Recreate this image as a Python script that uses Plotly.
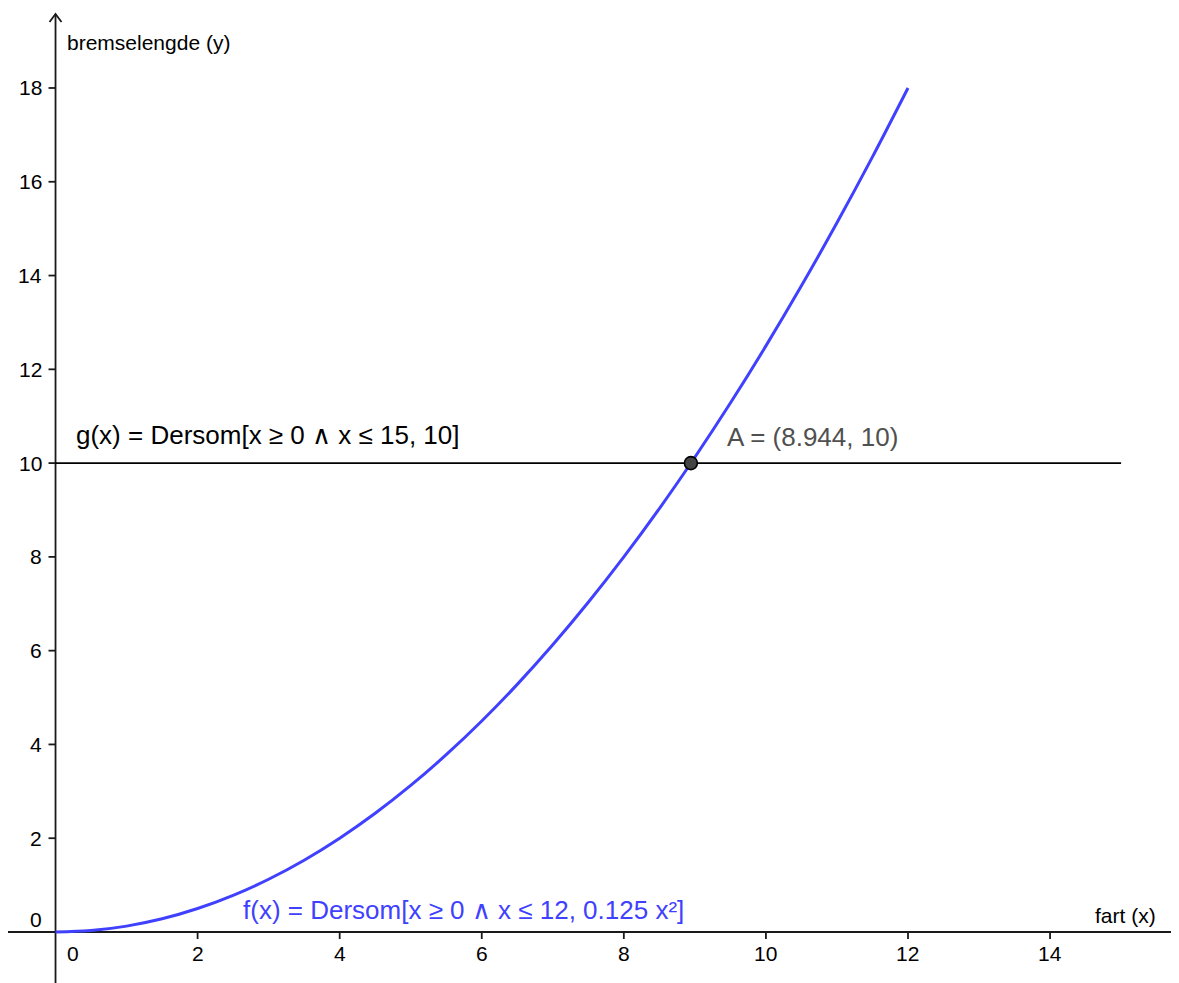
import plotly.graph_objects as go

# Data
fart = [0, 0.5, 1, 1.5, 2, 2.5, 3, 3.5, 4, 4.5, 5, 5.5, 6, 6.5, 7, 7.5, 8,
        8.5, 9, 9.5, 10, 10.5, 11, 11.5, 12]
bremselengde = [0, 0.031, 0.125, 0.281, 0.5, 0.781, 1.125, 1.531, 2, 2.531, 3.125,
                3.781, 4.5, 5.281, 6.125, 7.031, 8, 9.031, 10.125, 11.281, 12.5,
                13.781, 15.125, 16.531, 18]
g_x = [0, 15]
g_y = [10, 10]
point_A = (8.944, 10)
x_ticks = [0, 2, 4, 6, 8, 10, 12, 14]
y_ticks = [0, 2, 4, 6, 8, 10, 12, 14, 16, 18]

W, H = 1171, 975
X_RANGE = [-0.669, 15.815]
Y_RANGE = [-1.088, 19.706]
PX_X = W / (X_RANGE[1] - X_RANGE[0])
PX_Y = H / (Y_RANGE[1] - Y_RANGE[0])

FONT = "Liberation Sans, Arial, sans-serif"
BLUE = "rgb(64,64,255)"
AXC = "#1a1a1a"

fig = go.Figure()

# g(x) horizontal line
fig.add_trace(go.Scatter(x=g_x, y=g_y, mode="lines",
                         line=dict(color="black", width=1.8), hoverinfo="skip"))
# f(x) curve
fig.add_trace(go.Scatter(x=fart, y=bremselengde, mode="lines",
                         line=dict(color=BLUE, width=3, shape="spline", smoothing=1.0),
                         hoverinfo="skip"))
# point A
fig.add_trace(go.Scatter(x=[point_A[0]], y=[point_A[1]], mode="markers",
                         marker=dict(size=13, color="#454545", line=dict(color="black", width=1.6)),
                         hoverinfo="skip"))

shapes = []
# axes
shapes.append(dict(type="line", xref="x", yref="y", x0=X_RANGE[0], x1=X_RANGE[1], y0=0, y1=0,
                   line=dict(color=AXC, width=1.8), layer="below"))
ytip = 18 + (88 - 14) / PX_Y
shapes.append(dict(type="line", xref="x", yref="y", x0=0, x1=0, y0=Y_RANGE[0], y1=ytip,
                   line=dict(color=AXC, width=1.8), layer="below"))
# arrow head on y axis
dx = 6 / PX_X
dy = 8 / PX_Y
shapes.append(dict(type="path", xref="x", yref="y",
                   path=f"M {-dx} {ytip - dy} L 0 {ytip} L {dx} {ytip - dy}",
                   line=dict(color=AXC, width=1.8), layer="below"))
# ticks
tl = 7
for t in x_ticks[1:]:
    shapes.append(dict(type="line", xref="x", yref="y", x0=t, x1=t, y0=0, y1=-tl / PX_Y,
                       line=dict(color=AXC, width=1.8), layer="below"))
for t in y_ticks[1:]:
    shapes.append(dict(type="line", xref="x", yref="y", x0=0, x1=-tl / PX_X, y0=t, y1=t,
                       line=dict(color=AXC, width=1.8), layer="below"))

annotations = []
for t in x_ticks:
    annotations.append(dict(x=t, y=0, xref="x", yref="y", text=str(t), showarrow=False,
                            xanchor="center", yanchor="middle",
                            xshift=(17 if t == 0 else 0), yshift=-22,
                            font=dict(family=FONT, size=21, color="black")))
for t in y_ticks:
    annotations.append(dict(x=0, y=t, xref="x", yref="y", text=str(t), showarrow=False,
                            xanchor="right", yanchor="middle",
                            xshift=-12, yshift=(12 if t == 0 else 0),
                            font=dict(family=FONT, size=21, color="black")))

annotations += [
    dict(x=0, y=ytip, xref="x", yref="y", text="bremselengde (y)", showarrow=False,
         xanchor="left", yanchor="middle", xshift=9, yshift=-29,
         font=dict(family=FONT, size=21, color="black")),
    dict(x=X_RANGE[1], y=0, xref="x", yref="y", text="fart (x)", showarrow=False,
         xanchor="right", yanchor="middle", xshift=-21, yshift=16,
         font=dict(family=FONT, size=21, color="black")),
    dict(x=0, y=10, xref="x", yref="y", text="g(x) = Dersom[x ≥ 0 ∧ x ≤ 15, 10]",
         showarrow=False, xanchor="left", yanchor="middle", xshift=18, yshift=28,
         font=dict(family=FONT, size=26, color="black")),
    dict(x=point_A[0], y=point_A[1], xref="x", yref="y", text="A = (8.944, 10)",
         showarrow=False, xanchor="left", yanchor="middle", xshift=34, yshift=26,
         font=dict(family=FONT, size=26, color="#505050")),
    dict(x=2.61, y=0, xref="x", yref="y", text="f(x) = Dersom[x ≥ 0 ∧ x ≤ 12, 0.125 x²]",
         showarrow=False, xanchor="left", yanchor="middle", xshift=0, yshift=22,
         font=dict(family=FONT, size=26, color=BLUE)),
]

fig.update_layout(
    width=W, height=H,
    margin=dict(l=0, r=0, t=0, b=0),
    paper_bgcolor="white", plot_bgcolor="white",
    showlegend=False,
    shapes=shapes, annotations=annotations,
    xaxis=dict(range=X_RANGE, visible=False, fixedrange=True),
    yaxis=dict(range=Y_RANGE, visible=False, fixedrange=True),
)

fig.write_html("out.html")
